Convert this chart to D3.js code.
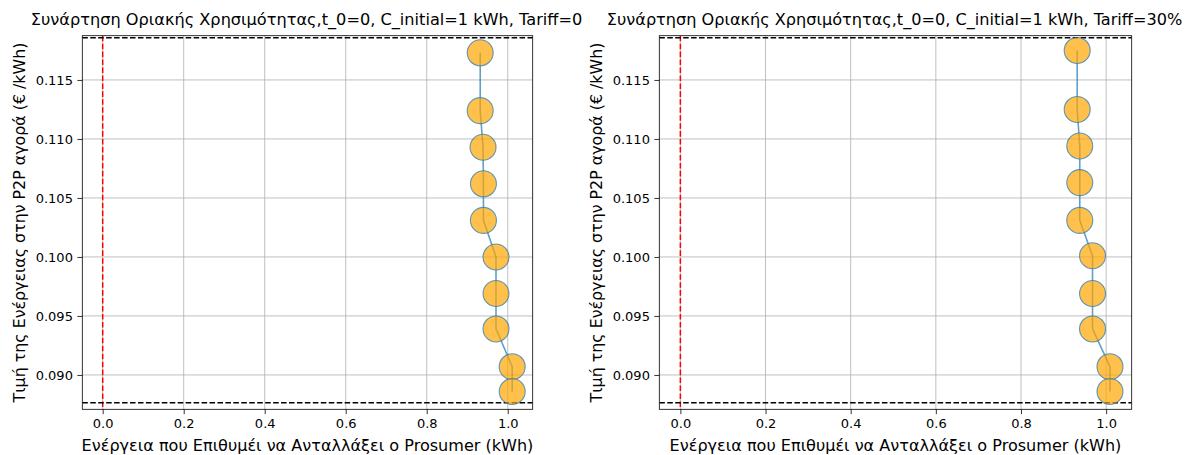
<!DOCTYPE html>
<html>
<head>
<meta charset="utf-8">
<script src="https://cdn.jsdelivr.net/npm/d3@7"></script>
<style>
  html, body { margin: 0; padding: 0; background: #fff; }
  svg text { font-family: 'DejaVu Sans', sans-serif; fill: #000; }
  .grid line { stroke: #b0b0b0; stroke-width: 0.8; }
  .axis path, .axis line { stroke: #000; stroke-width: 0.8; }
</style>
</head>
<body>
<div id="chart"></div>
<script>
(function () {
  'use strict';

  // values
  const energyTariff0  = [0.932, 0.932, 0.939, 0.940, 0.940, 0.971, 0.971, 0.971, 1.011, 1.011];
  const priceTariff0   = [0.1173, 0.1124, 0.1093, 0.1062, 0.1031, 0.1000, 0.0969, 0.0939, 0.0907, 0.0886];
  const energyTariff30 = [0.932, 0.932, 0.938, 0.938, 0.938, 0.968, 0.968, 0.968, 1.009, 1.009];
  const priceTariff30  = [0.1175, 0.1125, 0.1094, 0.1063, 0.1031, 0.1001, 0.0969, 0.0939, 0.0907, 0.0886];

  const xTicks = [0.0, 0.2, 0.4, 0.6, 0.8, 1.0];
  const yTicks = [0.090, 0.095, 0.100, 0.105, 0.110, 0.115];
  const priceUpper = 0.11858;
  const priceLower = 0.08765;

  const titles = [
    'Συνάρτηση Οριακής Χρησιμότητας,t_0=0, C_initial=1 kWh, Tariff=0',
    'Συνάρτηση Οριακής Χρησιμότητας,t_0=0, C_initial=1 kWh, Tariff=30%'
  ];
  const xLabel = 'Ενέργεια που Επιθυμέι να Ανταλλάξει ο Prosumer (kWh)';
  const yLabel = 'Τιμή της Ενέργειας στην P2P αγορά (€ /kWh)';

  const W = 1192, H = 455;
  const FS_TICK = 13;

  // shrink/grow a text so it spans the width seen in the reference
  function fitWidth(sel, target) {
    const len = sel.node().getComputedTextLength();
    const fs = parseFloat(sel.attr('font-size'));
    if (len > 0) sel.attr('font-size', (fs * target / len).toFixed(2));
  }

  const panels = [
    { x0: 82.3, x1: 532.7, y0: 35.7, y1: 409.3, xDom: [-0.0503, 1.0616], yDom: [0.08709, 0.11875],
      energy: energyTariff0, price: priceTariff0, title: titles[0], titleW: 552 },
    { x0: 659.3, x1: 1131.7, y0: 35.7, y1: 409.3, xDom: [-0.0495, 1.0600], yDom: [0.08709, 0.11875],
      energy: energyTariff30, price: priceTariff30, title: titles[1], titleW: 576 }
  ];

  const svg = d3.select('#chart').append('svg')
    .attr('width', W).attr('height', H)
    .attr('viewBox', `0 0 ${W} ${H}`);

  panels.forEach((p, i) => {
    const x = d3.scaleLinear().domain(p.xDom).range([p.x0, p.x1]);
    const y = d3.scaleLinear().domain(p.yDom).range([p.y1, p.y0]);
    const g = svg.append('g');
    const clipId = 'clip' + i;

    g.append('clipPath').attr('id', clipId)
      .append('rect')
      .attr('x', p.x0).attr('y', p.y0)
      .attr('width', p.x1 - p.x0).attr('height', p.y1 - p.y0);

    // grid
    const grid = g.append('g').attr('class', 'grid');
    grid.selectAll('.gx').data(xTicks).join('line')
      .attr('x1', d => x(d)).attr('x2', d => x(d))
      .attr('y1', p.y0).attr('y2', p.y1);
    grid.selectAll('.gy').data(yTicks).join('line')
      .attr('x1', p.x0).attr('x2', p.x1)
      .attr('y1', d => y(d)).attr('y2', d => y(d));

    const plot = g.append('g').attr('clip-path', `url(#${clipId})`);

    // reference lines
    plot.append('line')
      .attr('x1', x(0)).attr('x2', x(0))
      .attr('y1', p.y0).attr('y2', p.y1)
      .attr('stroke', 'red').attr('stroke-width', 1.5)
      .attr('stroke-dasharray', '5.55,2.4');
    [priceUpper, priceLower].forEach(v => {
      plot.append('line')
        .attr('x1', p.x0).attr('x2', p.x1)
        .attr('y1', y(v)).attr('y2', y(v))
        .attr('stroke', '#000').attr('stroke-width', 1.5)
        .attr('stroke-dasharray', '5.55,2.4');
    });

    const pts = p.energy.map((e, k) => [e, p.price[k]]);

    // line + markers, semi-transparent like the original
    plot.append('path')
      .datum(pts)
      .attr('fill', 'none')
      .attr('stroke', '#1f77b4')
      .attr('stroke-opacity', 0.7)
      .attr('stroke-width', 1.6)
      .attr('d', d3.line().x(d => x(d[0])).y(d => y(d[1])));

    plot.selectAll('circle').data(pts).join('circle')
      .attr('cx', d => x(d[0]))
      .attr('cy', d => y(d[1]))
      .attr('r', 13)
      .attr('fill', 'orange')
      .attr('fill-opacity', 0.7)
      .attr('stroke', '#1f77b4')
      .attr('stroke-opacity', 0.7)
      .attr('stroke-width', 1.1);

    // axes
    const xAxis = d3.axisBottom(x).tickValues(xTicks).tickFormat(d3.format('.1f'))
      .tickSize(4.9).tickPadding(4.5);
    const yAxis = d3.axisLeft(y).tickValues(yTicks).tickFormat(d3.format('.3f'))
      .tickSize(4.9).tickPadding(4.5);

    const gx = g.append('g').attr('class', 'axis')
      .attr('transform', `translate(0,${p.y1})`).call(xAxis);
    gx.select('.domain').remove();
    gx.selectAll('text').attr('font-size', FS_TICK).style('font-family', 'DejaVu Sans');

    const gy = g.append('g').attr('class', 'axis')
      .attr('transform', `translate(${p.x0},0)`).call(yAxis);
    gy.select('.domain').remove();
    gy.selectAll('text').attr('font-size', FS_TICK).style('font-family', 'DejaVu Sans');

    // frame
    g.append('rect')
      .attr('x', p.x0).attr('y', p.y0)
      .attr('width', p.x1 - p.x0).attr('height', p.y1 - p.y0)
      .attr('fill', 'none').attr('stroke', '#000').attr('stroke-width', 0.8);

    const cx = (p.x0 + p.x1) / 2;
    const title = g.append('text')
      .attr('x', cx - 1).attr('y', 25)
      .attr('text-anchor', 'middle')
      .attr('font-size', 16)
      .text(p.title);
    fitWidth(title, p.titleW);

    const xl = g.append('text')
      .attr('x', cx).attr('y', 451)
      .attr('text-anchor', 'middle')
      .attr('font-size', 16)
      .text(xLabel);
    fitWidth(xl, 452);

    const cy = (p.y0 + p.y1) / 2;
    const yl = g.append('text')
      .attr('transform', `translate(${p.x0 - 57},${cy}) rotate(-90)`)
      .attr('text-anchor', 'middle')
      .attr('font-size', 16)
      .text(yLabel);
    fitWidth(yl, 360);
  });
})();
</script>
</body>
</html>
